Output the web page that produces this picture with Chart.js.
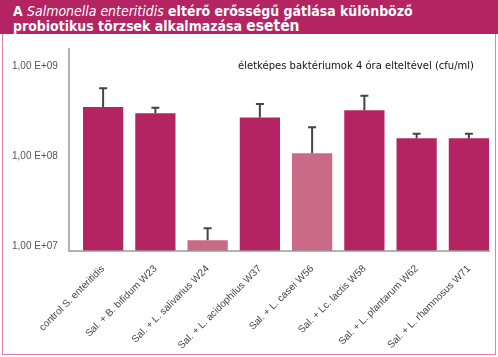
<!DOCTYPE html>
<html><head><meta charset="utf-8">
<script src="https://cdn.jsdelivr.net/npm/chart.js@4"></script>
<style>
html,body{margin:0;padding:0;background:#fff;}
#wrap{position:relative;width:498px;height:357px;overflow:hidden;}
#hdr{position:absolute;left:0;top:0;width:498px;height:34px;background:#B42462;color:#fff;
 font-family:"DejaVu Sans Condensed","DejaVu Sans",sans-serif;font-weight:bold;font-size:14px;}
#hdr div{position:absolute;left:13px;white-space:nowrap;line-height:16px;}
#hdr i{font-weight:normal;}
#hdr .big{font-size:15.5px;}
#box{position:absolute;left:2px;top:34px;width:494px;height:321px;border:1px solid #E07FA8;border-top:none;box-sizing:border-box;}
#cv{position:absolute;left:3px;top:35px;}
</style></head><body>
<div id="wrap">
<div id="hdr"><div id="l1" style="top:3px">A <i>Salmonella enteritidis</i> eltérő erősségű gátlása különböző</div><div style="top:18px">probiotikus törzsek alkalmazása <span class="big">esetén</span></div></div>
<div id="box"></div>
<canvas id="cv" width="492" height="319"></canvas>
</div>
<script>
const categories = ["control S. enteritidis","Sal. + B. bifidum W23","Sal. + L. salivarius W24","Sal. + L. acidophilus W37","Sal. + L. casei W56","Sal. + Lc. lactis W58","Sal. + L. plantarum W62","Sal. + L. rhamnosus W71"];
const values = [3.5e8, 2.98e8, 1.16e7, 2.67e8, 1.07e8, 3.22e8, 1.57e8, 1.57e8];
const errorTops = [5.65e8, 3.44e8, 1.57e7, 3.78e8, 2.08e8, 4.68e8, 1.77e8, 1.77e8];
const tickValues = [1e7, 1e8, 1e9];
const annotation = "életképes baktériumok 4 óra elteltével (cfu/ml)";
const barColors = ["#B42462","#B42462","#C96A88","#B42462","#C96A88","#B42462","#B42462","#B42462"];

const fmt = v => "1,00 E+" + String(Math.round(Math.log10(v))).padStart(2,"0");

const extras = {
  id: "extras",
  afterDatasetsDraw(chart) {
    const {ctx, chartArea, scales} = chart;
    const x = scales.x, y = scales.y;
    ctx.save();
    ctx.strokeStyle = "#999";
    ctx.lineWidth = 1.5;
    ctx.beginPath();
    ctx.moveTo(chartArea.left - 8, chartArea.top);
    ctx.lineTo(chartArea.left - 8, chartArea.bottom);
    ctx.lineTo(chartArea.right - 5, chartArea.bottom);
    ctx.stroke();
    ctx.strokeStyle = "#444";
    ctx.lineWidth = 2;
    errorTops.forEach((e, i) => {
      const cx = x.getPixelForValue(i);
      const y0 = y.getPixelForValue(values[i]);
      const y1 = y.getPixelForValue(e);
      ctx.beginPath();
      ctx.moveTo(cx, y0); ctx.lineTo(cx, y1);
      ctx.moveTo(cx - 4, y1); ctx.lineTo(cx + 4, y1);
      ctx.stroke();
    });
    ctx.fillStyle = "#111";
    ctx.font = "10px 'DejaVu Sans'";
    ctx.textAlign = "center";
    ctx.textBaseline = "middle";
    ctx.fillText(annotation, 356 - 3, y.getPixelForValue(1e9));
    ctx.restore();
  }
};

// fit header line 1 to reference width (~400px)
(function(){
  const l1 = document.getElementById("l1");
  const w = l1.getBoundingClientRect().width;
  if (w > 0) {
    const s = 400 / w;
    document.getElementById("hdr").style.fontSize = (14 * s).toFixed(2) + "px";
  }
})();

new Chart(document.getElementById("cv"), {
  type: "bar",
  data: { labels: categories, datasets: [{ data: values, backgroundColor: barColors, barPercentage: 0.77, categoryPercentage: 1 }] },
  options: {
    responsive: false, animation: false,
    layout: { padding: { left: 9, top: 13, right: 0, bottom: 0 } },
    plugins: { legend: { display: false }, tooltip: { enabled: false } },
    scales: {
      x: {
        grid: { display: false }, border: { display: false },
        ticks: { color: "#444", font: { family: "'Liberation Sans'", size: 10 }, maxRotation: 45, minRotation: 45, padding: 4 },
        afterFit(s) { s.height = 103; }
      },
      y: {
        type: "logarithmic", min: Math.pow(10, 6.944), max: Math.pow(10, 9.2),
        grid: { display: false }, border: { display: false },
        afterBuildTicks(s) { s.ticks = tickValues.map(v => ({ value: v })); },
        ticks: { color: "#555", font: { family: "'Liberation Sans'", size: 10 }, crossAlign: "far", callback: v => fmt(v) },
        afterFit(s) { s.width = 65; }
      }
    }
  },
  plugins: [extras]
});
</script>
</body></html>
